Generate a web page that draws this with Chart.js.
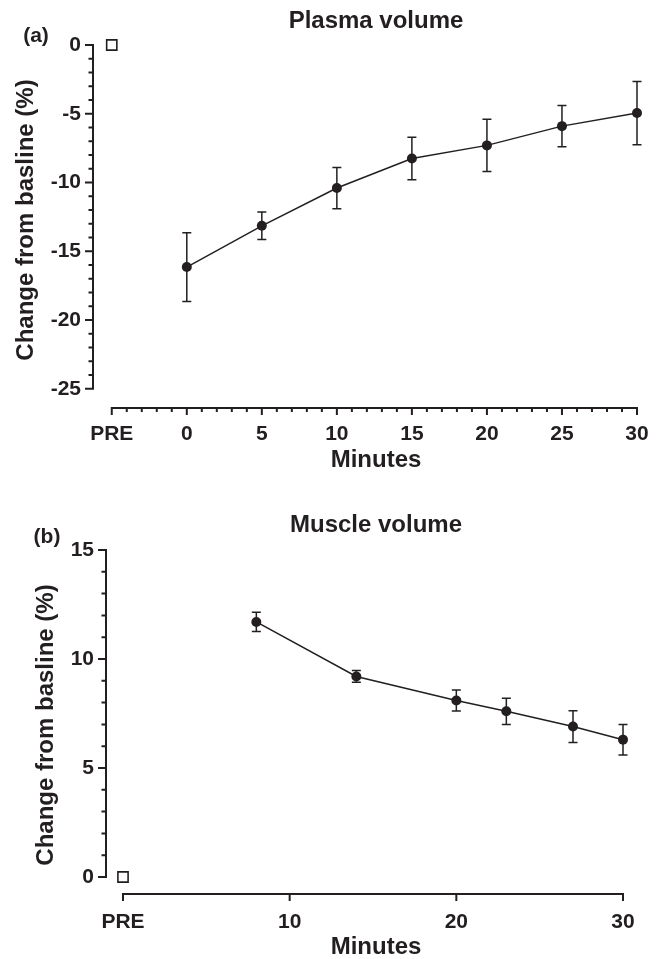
<!DOCTYPE html>
<html>
<head>
<meta charset="utf-8">
<script src="https://cdn.jsdelivr.net/npm/chart.js@4.4.1/dist/chart.umd.min.js"></script>
<style>
  html, body { margin: 0; padding: 0; background: #fff; }
  canvas { display: block; }
</style>
</head>
<body>
<canvas id="plasma" width="658" height="480"></canvas>
<canvas id="muscle" width="658" height="479"></canvas>
<script>
// (a) Plasma volume
var plasmaMinutes = [0, 5, 10, 15, 20, 25, 30];
var plasmaChange = [-16.15, -13.15, -10.4, -8.25, -7.3, -5.9, -4.95];
var plasmaError = [2.5, 1.0, 1.5, 1.55, 1.9, 1.5, 2.3];
var plasmaPreX = [-5];
var plasmaPreY = [0];
var plasmaXTicks = [-5, 0, 5, 10, 15, 20, 25, 30];
var plasmaXLabels = ['PRE', '0', '5', '10', '15', '20', '25', '30'];
var plasmaYTicks = [-25, -20, -15, -10, -5, 0];
var plasmaYLabels = ['-25', '-20', '-15', '-10', '-5', '0'];

// (b) Muscle volume
var muscleMinutes = [8, 14, 20, 23, 27, 30];
var muscleChange = [11.7, 9.2, 8.1, 7.6, 6.9, 6.3];
var muscleError = [0.44, 0.27, 0.48, 0.6, 0.73, 0.7];
var musclePreX = [0];
var musclePreY = [0];
var muscleXTicks = [0, 10, 20, 30];
var muscleXLabels = ['PRE', '10', '20', '30'];
var muscleYTicks = [0, 5, 10, 15];
var muscleYLabels = ['0', '5', '10', '15'];

var INK = '#231f20';
var FONT = "'Liberation Sans', Arial, sans-serif";

function points(xs, ys) {
  return xs.map(function (x, i) { return {x: x, y: ys[i]}; });
}

function makePanel(id, p) {
  // error bars, offset axes and the text around the plot
  var decor = {
    id: 'decor',
    beforeDatasetsDraw: function (chart) {
      var ctx = chart.ctx, xs = chart.scales.x, ys = chart.scales.y;
      ctx.save();
      ctx.strokeStyle = INK;
      ctx.lineWidth = 1.5;
      p.minutes.forEach(function (m, i) {
        var x = xs.getPixelForValue(m);
        var top = ys.getPixelForValue(p.change[i] + p.error[i]);
        var bot = ys.getPixelForValue(p.change[i] - p.error[i]);
        ctx.beginPath();
        ctx.moveTo(x, top); ctx.lineTo(x, bot);
        ctx.moveTo(x - 4.5, top); ctx.lineTo(x + 4.5, top);
        ctx.moveTo(x - 4.5, bot); ctx.lineTo(x + 4.5, bot);
        ctx.stroke();
      });
      ctx.restore();
    },
    afterDraw: function (chart) {
      var ctx = chart.ctx, xs = chart.scales.x, ys = chart.scales.y;
      var area = chart.chartArea;
      var yFrom = p.yTicks[0], yTo = p.yTicks[p.yTicks.length - 1];
      var xFrom = p.xTicks[0], xTo = p.xTicks[p.xTicks.length - 1];
      var x0 = area.left, y0 = area.bottom;
      ctx.save();
      ctx.strokeStyle = INK;
      ctx.lineWidth = 2;
      ctx.beginPath();
      ctx.moveTo(x0, ys.getPixelForValue(yTo) - 1);
      ctx.lineTo(x0, ys.getPixelForValue(yFrom) + 1);
      ctx.moveTo(xs.getPixelForValue(xFrom) - 1, y0);
      ctx.lineTo(xs.getPixelForValue(xTo) + 1, y0);
      for (var v = yFrom; v <= yTo + 1e-9; v += p.yMinor) {
        var len = p.yTicks.indexOf(v) >= 0 ? 8 : 4.5;
        var py = ys.getPixelForValue(v);
        ctx.moveTo(x0 - len, py); ctx.lineTo(x0, py);
      }
      for (var u = xFrom; u <= xTo + 1e-9; u += p.xMinor) {
        var l2 = p.xTicks.indexOf(u) >= 0 ? 7 : 4;
        var px = xs.getPixelForValue(u);
        ctx.moveTo(px, y0); ctx.lineTo(px, y0 + l2);
      }
      ctx.stroke();

      ctx.fillStyle = INK;
      ctx.textAlign = 'center';
      ctx.textBaseline = 'middle';
      ctx.font = 'bold 24px ' + FONT;
      ctx.fillText(p.title, 376, p.titleY);
      ctx.fillText('Minutes', 376, p.xTitleY);
      ctx.save();
      ctx.translate(p.yTitleX, p.yTitleY);
      ctx.rotate(-Math.PI / 2);
      ctx.fillText('Change from basline (%)', 0, 0);
      ctx.restore();
      ctx.font = 'bold 21px ' + FONT;
      ctx.fillText(p.panel, p.panelX, p.panelY);
      ctx.restore();
    }
  };

  return new Chart(document.getElementById(id), {
    type: 'scatter',
    data: {
      datasets: [
        {
          data: points(p.minutes, p.change),
          showLine: true,
          borderColor: INK,
          borderWidth: 1.5,
          pointRadius: 5,
          pointBackgroundColor: INK,
          pointBorderWidth: 0,
          clip: false
        },
        {
          data: points(p.preX, p.preY),
          pointStyle: 'rect',
          pointRadius: 7.2,
          pointBackgroundColor: '#fff',
          pointBorderColor: INK,
          pointBorderWidth: 1.6,
          clip: false
        }
      ]
    },
    options: {
      responsive: false,
      animation: false,
      layout: {padding: {left: 0, right: 658 - p.right, top: p.top, bottom: 0}},
      plugins: {legend: {display: false}, tooltip: {enabled: false}},
      scales: {
        x: {
          type: 'linear',
          min: p.xMin,
          max: p.xMax,
          grid: {display: false},
          border: {display: false},
          afterFit: function (s) { s.height = p.xHeight; },
          afterBuildTicks: function (s) { s.ticks = p.xTicks.map(function (v) { return {value: v}; }); },
          ticks: {
            padding: p.xPad,
            color: INK,
            font: {family: FONT, size: 21, weight: 'bold'},
            callback: function (v, i) { return p.xLabels[i]; }
          }
        },
        y: {
          type: 'linear',
          min: p.yMin,
          max: p.yMax,
          grid: {display: false},
          border: {display: false},
          afterFit: function (s) { s.width = p.left; },
          afterBuildTicks: function (s) { s.ticks = p.yTicks.map(function (v) { return {value: v}; }); },
          ticks: {
            padding: 4,
            color: INK,
            font: {family: FONT, size: 21, weight: 'bold'},
            callback: function (v, i) { return p.yLabels[i]; }
          }
        }
      }
    },
    plugins: [decor]
  });
}

makePanel('plasma', {
  minutes: plasmaMinutes, change: plasmaChange, error: plasmaError,
  preX: plasmaPreX, preY: plasmaPreY,
  xTicks: plasmaXTicks, xLabels: plasmaXLabels, yTicks: plasmaYTicks, yLabels: plasmaYLabels,
  xMin: -6.25, xMax: 30, yMin: -26.4, yMax: 0, xMinor: 1, yMinor: 1,
  left: 93, right: 637, top: 45, xHeight: 72, xPad: 6,
  title: 'Plasma volume', titleY: 21, xTitleY: 460,
  panel: '(a)', panelX: 36, panelY: 36, yTitleX: 26, yTitleY: 220
});

makePanel('muscle', {
  minutes: muscleMinutes, change: muscleChange, error: muscleError,
  preX: musclePreX, preY: musclePreY,
  xTicks: muscleXTicks, xLabels: muscleXLabels, yTicks: muscleYTicks, yLabels: muscleYLabels,
  xMin: -1.02, xMax: 30, yMin: -0.78, yMax: 15, xMinor: 10, yMinor: 1,
  left: 106, right: 623, top: 70, xHeight: 65, xPad: 8,
  title: 'Muscle volume', titleY: 45, xTitleY: 467,
  panel: '(b)', panelX: 47, panelY: 57, yTitleX: 46, yTitleY: 245
});
</script>
</body>
</html>
